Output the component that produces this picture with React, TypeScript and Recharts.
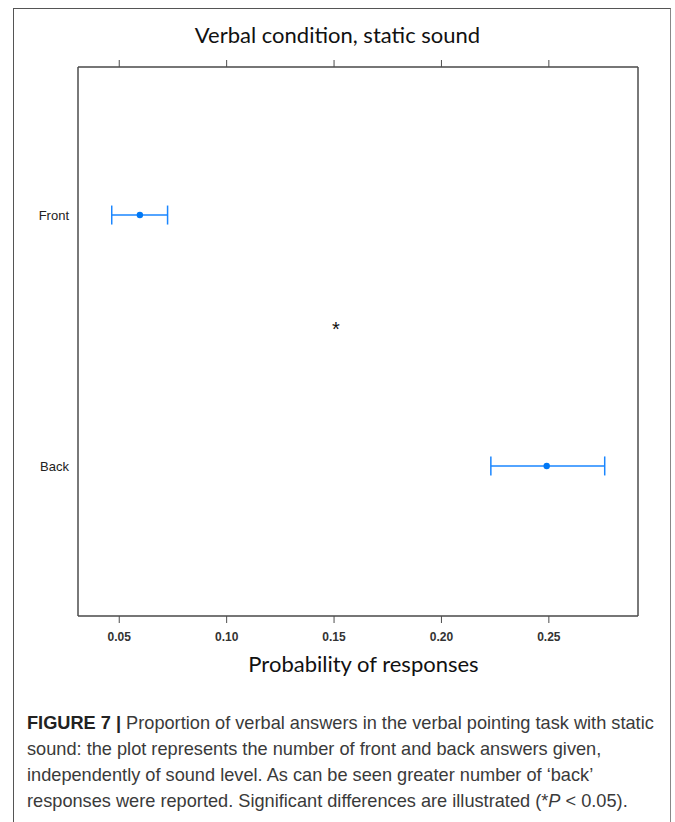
import {
  CartesianGrid,
  ErrorBar,
  Scatter,
  ScatterChart,
  XAxis,
  YAxis,
} from "recharts"

const categories = ["Back", "Front"]
const means = [0.249, 0.0596]
const lower = [0.223, 0.0465]
const upper = [0.276, 0.0725]
const xTicks = [0.05, 0.1, 0.15, 0.2, 0.25]

const data = categories.map((name, i) => ({
  name,
  pos: i + 1,
  value: means[i],
  err: [means[i] - lower[i], upper[i] - means[i]],
}))

const BLUE = "#1a86ff"
const FRAME = "#4d4d4d"

const Dot = (props: any) => {
  const { cx, cy } = props
  return <circle cx={cx} cy={cy} r={3.2} fill="#0078f5" />
}

export default function App() {
  return (
    <div
      style={{
        position: "absolute",
        left: 0,
        top: 0,
        width: 675,
        height: 822,
        background: "#fff",
        fontFamily: "Arial, 'Liberation Sans', sans-serif",
      }}
    >
      {/* outer figure box */}
      <div
        style={{
          position: "absolute",
          left: 13,
          top: 8,
          width: 656,
          height: 830,
          borderTop: "1.5px solid #555",
          borderLeft: "1.5px solid #555",
          borderRight: "1.5px solid #888",
        }}
      />
      <div
        style={{
          position: "absolute",
          left: 0,
          width: 675,
          top: 21,
          textAlign: "center",
          fontFamily: "Lato",
          fontSize: 22,
          color: "#111",
        }}
      >
        Verbal condition, static sound
      </div>
      <div style={{ position: "absolute", left: 0, top: 0 }}>
        <ScatterChart
          width={675}
          height={700}
          margin={{ top: 59, right: 36, bottom: 54, left: 0 }}
        >
          <CartesianGrid horizontal vertical={false} stroke="#e6e6e6" />
          <XAxis
            xAxisId="bottom"
            type="number"
            dataKey="value"
            domain={[0.0308, 0.2915]}
            ticks={xTicks}
            tickFormatter={(v: number) => v.toFixed(2)}
            height={30}
            tickSize={7}
            tickMargin={9}
            stroke={FRAME}
            axisLine={{ stroke: FRAME, strokeWidth: 1.5 }}
            tick={{ fill: "#333", fontSize: 12, fontWeight: 600 }}
            allowDataOverflow
          />
          <XAxis
            xAxisId="top"
            orientation="top"
            type="number"
            dataKey="value"
            domain={[0.0308, 0.2915]}
            ticks={xTicks}
            tickFormatter={() => ""}
            height={8}
            tickSize={7}
            stroke={FRAME}
            axisLine={{ stroke: FRAME, strokeWidth: 1.5 }}
            allowDataOverflow
          />
          <YAxis
            yAxisId="left"
            type="number"
            dataKey="pos"
            domain={[0.402, 2.59]}
            ticks={[1, 2]}
            tickFormatter={(v: number) => categories[v - 1]}
            width={78}
            tickLine={false}
            tickSize={0}
            tickMargin={9}
            axisLine={{ stroke: FRAME, strokeWidth: 1.5 }}
            tick={{ fill: "#222", fontSize: 13 }}
            allowDataOverflow
          />
          <YAxis
            yAxisId="right"
            orientation="right"
            type="number"
            dataKey="pos"
            domain={[0.402, 2.59]}
            width={1}
            tick={false}
            tickLine={false}
            axisLine={{ stroke: FRAME, strokeWidth: 1.5 }}
          />
          <Scatter
            data={data}
            xAxisId="bottom"
            yAxisId="left"
            shape={Dot}
            isAnimationActive={false}
          >
            <ErrorBar
              dataKey="err"
              direction="x"
              width={9.5}
              stroke={BLUE}
              strokeWidth={1.5}
            />
          </Scatter>
        </ScatterChart>
      </div>
      <div
        style={{
          position: "absolute",
          left: 332,
          top: 318,
          fontSize: 20,
          color: "#111",
        }}
      >
        *
      </div>
      <div
        style={{
          position: "absolute",
          left: 0,
          width: 727,
          top: 650,
          textAlign: "center",
          fontFamily: "Lato",
          fontSize: 22,
          color: "#111",
        }}
      >
        Probability of responses
      </div>
      <div
        style={{
          position: "absolute",
          left: 27,
          top: 710,
          width: 645,
          whiteSpace: "nowrap",
          fontFamily: "'Liberation Sans', Arial, sans-serif",
          fontSize: 18.2,
          lineHeight: "26px",
          color: "#3a3a3a",
        }}
      >
        <b style={{ color: "#222" }}>FIGURE 7 |</b> Proportion of verbal answers
        in the verbal pointing task with static
        <br />
        sound: the plot represents the number of front and back answers given,
        <br />
        independently of sound level. As can be seen greater number of ‘back’
        <br />
        responses were reported. Significant differences are illustrated (*
        <i>P</i> &lt; 0.05).
      </div>
    </div>
  )
}
